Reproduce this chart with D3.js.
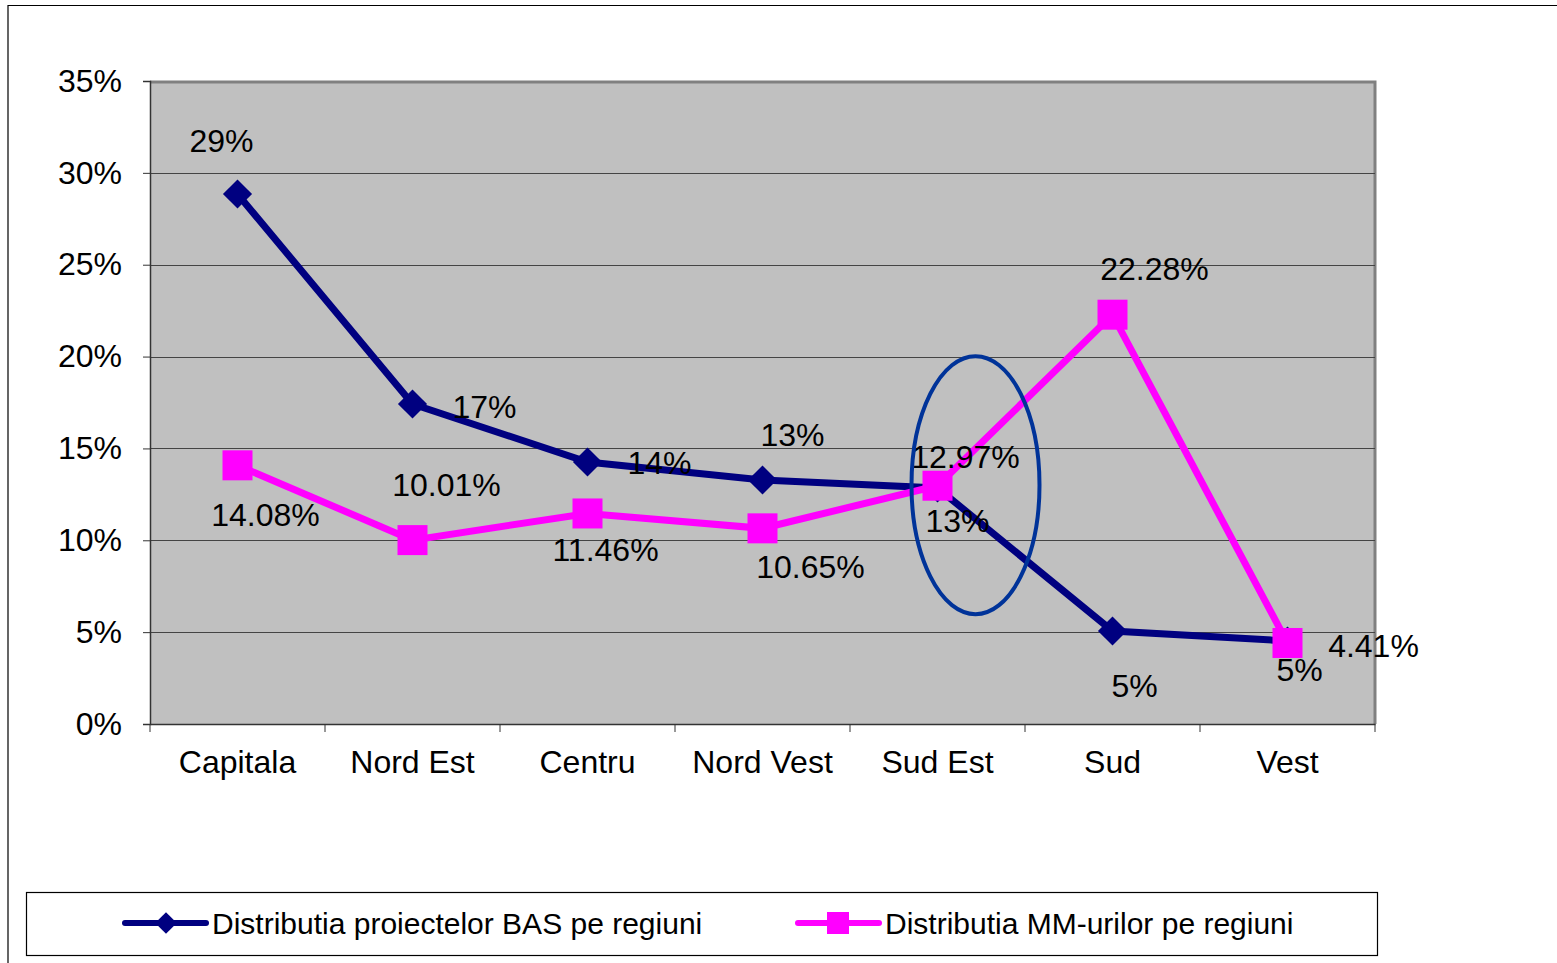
<!DOCTYPE html>
<html>
<head>
<meta charset="utf-8">
<script src="https://cdn.jsdelivr.net/npm/d3@7"></script>
<style>
  body { margin: 0; background: #fff; }
  text { font-family: "Liberation Sans", Arial, sans-serif; }
</style>
</head>
<body>
<svg id="chart" width="1557" height="963"></svg>
<script>
var regions = ["Capitala", "Nord Est", "Centru", "Nord Vest", "Sud Est", "Sud", "Vest"];
var bas = [0.2885, 0.1742, 0.1426, 0.1328, 0.1285, 0.0506, 0.0452];
var mm = [0.1408, 0.1001, 0.1146, 0.1065, 0.1297, 0.2228, 0.0441];
var yTicks = [0, 0.05, 0.10, 0.15, 0.20, 0.25, 0.30, 0.35];
var seriesNames = ["Distributia proiectelor BAS pe regiuni", "Distributia MM-urilor pe regiuni"];

// label offsets (dx, dy) relative to point
var basLabelPos = [[-16, -53], [72, 3], [72, 1], [30, -45], [20, 33], [22, 55], [12, 29]];
var mmLabelPos = [[28, 50], [34, -55], [18, 37], [48, 39], [28, -29], [42, -46], [86, 3]];

var svg = d3.select("#chart");
var pLeft = 150, pRight = 1375, pTop = 81, pBottom = 724;

var x = d3.scaleBand().domain(regions).range([pLeft, pRight]);
var y = d3.scaleLinear().domain([0, 0.35]).range([pBottom, pTop]);

// outer frame
svg.append("path")
    .attr("d", "M8,963 L8,5.5 L1557,5.5")
    .attr("fill", "none")
    .attr("stroke", "#000")
    .attr("stroke-width", 1.2);

// plot area
svg.append("rect")
    .attr("x", pLeft).attr("y", pTop)
    .attr("width", pRight - pLeft).attr("height", pBottom - pTop)
    .attr("fill", "#c0c0c0");
svg.append("path")
    .attr("d", "M" + pLeft + "," + (pTop + 1) + " L" + pRight + "," + (pTop + 1) + " L" + pRight + "," + pBottom)
    .attr("fill", "none")
    .attr("stroke", "#808080")
    .attr("stroke-width", 3);

// gridlines
svg.append("g")
    .selectAll("line")
    .data(yTicks.slice(1, -1))
    .enter().append("line")
    .attr("x1", pLeft).attr("x2", pRight)
    .attr("y1", function(d) { return Math.round(y(d)) + 0.5; })
    .attr("y2", function(d) { return Math.round(y(d)) + 0.5; })
    .attr("stroke", "#444")
    .attr("stroke-width", 1.2);

// y axis
var yaxis = svg.append("g")
    .attr("transform", "translate(" + pLeft + ",0)")
    .call(d3.axisLeft(y).tickValues(yTicks).tickFormat(d3.format(".0%")).tickSize(7).tickPadding(21));
yaxis.select(".domain").attr("stroke", "#333").attr("stroke-width", 1.5);
yaxis.selectAll(".tick line").attr("stroke", "#333");
yaxis.selectAll("text")
    .attr("font-size", 32)
    .attr("fill", "#000")
    .attr("font-family", "Liberation Sans, Arial, sans-serif");

// x axis
var xaxis = svg.append("g")
    .attr("transform", "translate(0," + pBottom + ")")
    .call(d3.axisBottom(x).tickSize(0).tickPadding(26));
xaxis.select(".domain").attr("stroke", "#333").attr("stroke-width", 1.5);
xaxis.selectAll("text")
    .attr("font-size", 32)
    .attr("fill", "#000")
    .attr("font-family", "Liberation Sans, Arial, sans-serif");
svg.append("g")
    .selectAll("line")
    .data(regions.concat([null]))
    .enter().append("line")
    .attr("x1", function(d, i) { return pLeft + i * x.bandwidth(); })
    .attr("x2", function(d, i) { return pLeft + i * x.bandwidth(); })
    .attr("y1", pBottom).attr("y2", pBottom + 8)
    .attr("stroke", "#333");

var cx = function(d, i) { return x(regions[i]) + x.bandwidth() / 2; };
var line = d3.line()
    .x(function(d, i) { return cx(d, i); })
    .y(function(d) { return y(d); });

// BAS series
svg.append("path")
    .datum(bas)
    .attr("d", line)
    .attr("fill", "none")
    .attr("stroke", "#000080")
    .attr("stroke-width", 7);
svg.append("g")
    .selectAll("path")
    .data(bas)
    .enter().append("path")
    .attr("d", d3.symbol().type(d3.symbolDiamond2).size(540))
    .attr("transform", function(d, i) { return "translate(" + cx(d, i) + "," + y(d) + ")"; })
    .attr("fill", "#000080");

// MM series
svg.append("path")
    .datum(mm)
    .attr("d", line)
    .attr("fill", "none")
    .attr("stroke", "#ff00ff")
    .attr("stroke-width", 7);
svg.append("g")
    .selectAll("rect")
    .data(mm)
    .enter().append("rect")
    .attr("x", function(d, i) { return cx(d, i) - 15; })
    .attr("y", function(d) { return y(d) - 15; })
    .attr("width", 30).attr("height", 30)
    .attr("fill", "#ff00ff");

// data labels
var fmt0 = d3.format(".0%"), fmt2 = d3.format(".2%");
svg.append("g")
    .selectAll("text")
    .data(bas)
    .enter().append("text")
    .attr("x", function(d, i) { return cx(d, i) + basLabelPos[i][0]; })
    .attr("y", function(d, i) { return y(d) + basLabelPos[i][1]; })
    .attr("text-anchor", "middle")
    .attr("dominant-baseline", "central")
    .attr("font-size", 32)
    .text(function(d) { return fmt0(d); });
svg.append("g")
    .selectAll("text")
    .data(mm)
    .enter().append("text")
    .attr("x", function(d, i) { return cx(d, i) + mmLabelPos[i][0]; })
    .attr("y", function(d, i) { return y(d) + mmLabelPos[i][1]; })
    .attr("text-anchor", "middle")
    .attr("dominant-baseline", "central")
    .attr("font-size", 32)
    .text(function(d) { return fmt2(d); });

// highlight ellipse around Sud Est
svg.append("ellipse")
    .attr("cx", x("Sud Est") + x.bandwidth() / 2 + 38)
    .attr("cy", y(0.13))
    .attr("rx", 64).attr("ry", 129)
    .attr("fill", "none")
    .attr("stroke", "#003399")
    .attr("stroke-width", 4);

// legend
svg.append("rect")
    .attr("x", 26.5).attr("y", 892.5)
    .attr("width", 1351).attr("height", 63)
    .attr("fill", "#fff")
    .attr("stroke", "#000")
    .attr("stroke-width", 1.2);

var legend = svg.append("g");
var lx = [122, 795];
legend.selectAll("line")
    .data(seriesNames)
    .enter().append("line")
    .attr("x1", function(d, i) { return lx[i] + 3; })
    .attr("x2", function(d, i) { return lx[i] + 84; })
    .attr("y1", 923).attr("y2", 923)
    .attr("stroke", function(d, i) { return i === 0 ? "#000080" : "#ff00ff"; })
    .attr("stroke-width", 6)
    .attr("stroke-linecap", "round");
legend.append("path")
    .attr("d", d3.symbol().type(d3.symbolDiamond2).size(300))
    .attr("transform", "translate(" + (lx[0] + 44) + ",923)")
    .attr("fill", "#000080");
legend.append("rect")
    .attr("x", lx[1] + 32).attr("y", 912)
    .attr("width", 22).attr("height", 22)
    .attr("fill", "#ff00ff");
legend.selectAll("text")
    .data(seriesNames)
    .enter().append("text")
    .attr("x", function(d, i) { return lx[i] + 90; })
    .attr("y", 923)
    .attr("dominant-baseline", "central")
    .attr("font-size", 30)
    .text(function(d) { return d; });
</script>
</body>
</html>
